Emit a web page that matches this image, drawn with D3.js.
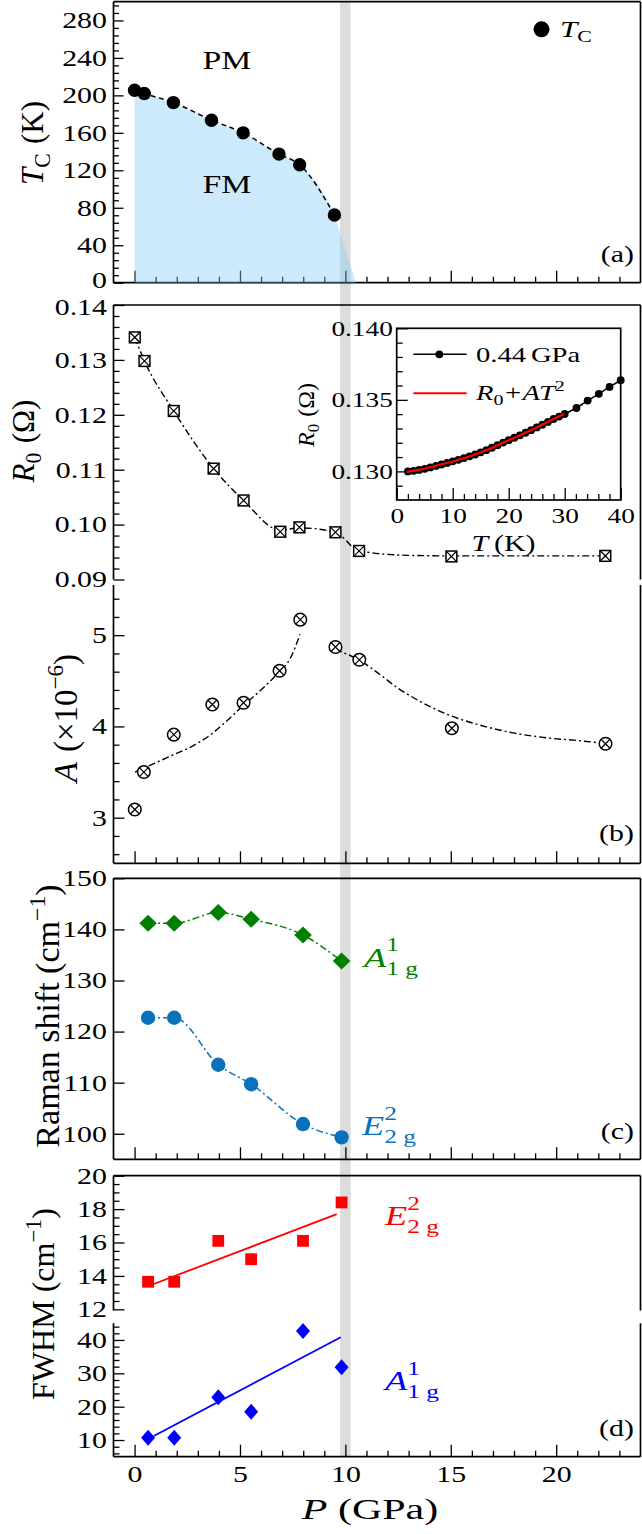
<!DOCTYPE html>
<html><head><meta charset="utf-8">
<script src="https://cdn.jsdelivr.net/npm/d3@7"></script>
<style>html,body{margin:0;padding:0;background:#fff}svg{display:block}</style>
</head><body>
<script>
// ---------------- data ----------------
const tcP = [0.0, 0.46, 1.84, 3.65, 5.15, 6.85, 7.83, 9.48];
const tcT = [205.5, 202, 192.3, 173.5, 160, 137.3, 125.9, 72.2];
const fmEdgeP = [0, 0.46, 1.84, 3.65, 5.15, 6.85, 7.83, 9.48, 10.0, 10.5];
const fmEdgeT = [200, 200.5, 191.5, 173, 159.5, 137, 125.5, 71, 36, 0];

const r0P = [0.01, 0.47, 1.86, 3.75, 5.17, 6.91, 7.82, 9.53, 10.65, 15.03, 22.33];
const r0V = [0.1341, 0.1298, 0.1207, 0.1102, 0.1044, 0.0987, 0.0995, 0.0986, 0.0952, 0.0942, 0.0943];
const r0FitP = [0.01, 0.47, 1.86, 3.75, 5.17, 6.91, 7.82, 9.53, 10.65, 13.0, 15.03, 22.33];
const r0FitV = [0.1341, 0.1298, 0.1207, 0.1102, 0.1044, 0.0990, 0.0994, 0.0986, 0.0952, 0.0944, 0.0943, 0.0943];

const aP = [0.01, 0.44, 1.86, 3.69, 5.17, 6.88, 7.86, 9.53, 10.66, 15.05, 22.34];
const aV = [3.09, 3.50, 3.91, 4.24, 4.26, 4.61, 5.17, 4.87, 4.73, 3.98, 3.81];
const aFitLowP = [0.02, 0.89, 1.84, 2.79, 3.67, 4.37, 5.16, 5.95, 6.87, 7.37, 7.85];
const aFitLowV = [3.50, 3.59, 3.69, 3.79, 3.92, 4.06, 4.23, 4.39, 4.60, 4.74, 5.01];
const aFitHighP = [9.51, 10.66, 11.64, 12.43, 13.38, 15.06, 16.39, 17.96, 19.55, 20.97, 22.36];
const aFitHighV = [4.843, 4.726, 4.569, 4.430, 4.295, 4.112, 4.014, 3.929, 3.875, 3.846, 3.813];

const insetT = [2,3,4,5,6,7,8,9,10,11,12,13,14,15,16,17,18,19,20,21,22,23,24,25,26,27,28,29,30,32.1,34.1,36.1,38,40];
const insetR = [0.13000,0.13004,0.13010,0.13018,0.13028,0.13038,0.13048,0.13059,0.13070,0.13081,0.13093,0.13105,0.13118,0.13133,0.13148,0.13165,0.13183,0.13201,0.13218,0.13235,0.13252,0.13270,0.13288,0.13307,0.13326,0.13346,0.13366,0.13383,0.13401,0.13443,0.13495,0.13542,0.13590,0.13637];
const insetFitT = [1.8, 4.2, 7.1, 10.1, 13.1, 16.1, 19.0, 22.0, 25.0, 28.0, 29.9];
const insetFitR = [0.12997, 0.13012, 0.13040, 0.13071, 0.13106, 0.13149, 0.13201, 0.13252, 0.13307, 0.13366, 0.13401];

const ramanP = [0.64, 1.88, 3.97, 5.53, 7.99, 9.82];
const ramanA1g = [141.2, 141.2, 143.3, 142.0, 138.9, 133.8];
const ramanE2g = [122.7, 122.7, 113.5, 109.7, 101.9, 99.3];

const fwhmP = [0.64, 1.88, 3.97, 5.53, 7.99, 9.82];
const fwhmE2g = [13.65, 13.65, 16.1, 15.0, 16.1, 18.4];
const fwhmA1g = [10.7, 10.7, 22.8, 18.5, 42.7, 31.8];
const fitE2gP = [0.88, 9.59], fitE2gV = [13.5, 17.7];
const fitA1gP = [0.91, 9.78], fitA1gV = [11.2, 40.8];

const bandP = [9.75, 10.25];

const xMajor = [0, 5, 10, 15, 20];
const xMinor = d3.range(1, 24).filter(v => v % 5 !== 0);
const tcMajor = [0, 40, 80, 120, 160, 200, 240, 280];
const tcMinor = d3.range(0, 300, 8).filter(v => v % 40 !== 0);
const r0Major = [0.09, 0.10, 0.11, 0.12, 0.13, 0.14];
const r0Minor = d3.range(0, 25).map(i => 0.09 + i * 0.002).filter((v, i) => i % 5 !== 0);
const aMajor = [3, 4, 5];
const aMinor = [2.6, 2.8, 3.2, 3.4, 3.6, 3.8, 4.2, 4.4, 4.6, 4.8, 5.2, 5.4];
const ramanMajor = [100, 110, 120, 130, 140, 150];
const e2Major = [12, 14, 16, 18, 20];
const e2Minor = [12.5, 13, 13.5, 14.5, 15, 15.5, 16.5, 17, 17.5, 18.5, 19, 19.5];
const a1Major = [10, 20, 30, 40];
const a1Minor = [6, 8, 12, 14, 16, 18, 22, 24, 26, 28, 32, 34, 36, 38, 42, 44];
const inXMajor = [0, 10, 20, 30, 40];
const inXMinor = [2,4,6,8,12,14,16,18,22,24,26,28,32,34,36,38];
const inYMajor = [0.130, 0.135, 0.140];
const inYMinor = [0.129, 0.131, 0.132, 0.133, 0.134, 0.136, 0.137, 0.138, 0.139];

// ---------------- layout ----------------
const W = 642, H = 1534;
const FONT = "'Liberation Serif','Times New Roman',serif";
const SX = 1.3;
const L = 113.5, R = 640.5;
const x = d3.scaleLinear([-1, 24], [L, R]);
const ya = d3.scaleLinear([0, 300], [282.7, 1.7]);
const yr = d3.scaleLinear([0.09, 0.14], [579.5, 305]);
const yA = d3.scaleLinear([2.5, 5.55], [863.3, 585]);
const yc = d3.scaleLinear([95, 150], [1159.3, 878.3]);
const ye = d3.scaleLinear([11.93, 20], [1310.5, 1175.7]);
const yf = d3.scaleLinear([5, 45], [1456.7, 1323.3]);
const xi = d3.scaleLinear([0, 40], [396.7, 620.7]);
const yi = d3.scaleLinear([0.128, 0.140], [500, 328.3]);

const svg = d3.select('body').append('svg').attr('width', W).attr('height', H)
  .attr('font-family', FONT);

function zip(a, b) { return a.map((v, i) => [v, b[i]]); }

function rich(parent, px, py, pieces, o) {
  const size = o.size;
  const g = parent.append('g');
  const inner = g.append('g').attr('fill', o.fill || '#000').attr('font-family', FONT);
  let cx = 0, hold = 0;
  for (const p of pieces) {
    cx += (p.pre || 0) * size;
    const fs = size * (p.s || 1);
    const t = inner.append('text').attr('x', cx).attr('y', (p.dy || 0) * size)
      .attr('font-size', fs).attr('font-style', p.i ? 'italic' : 'normal').text(p.t);
    const w = t.node().getComputedTextLength();
    if (p.hold) { hold = w; }
    else { cx += Math.max(w, hold); hold = 0; }
  }
  const shift = o.anchor === 'middle' ? -cx / 2 : (o.anchor === 'end' ? -cx : 0);
  inner.attr('transform', `translate(${shift},0)`);
  g.attr('transform', `translate(${px},${py}) scale(${o.sx || SX},1)` + (o.rot ? ` rotate(${o.rot})` : ''));
  return g;
}

function styleAxis(g, fs) {
  g.attr('font-family', FONT).attr('font-size', fs);
  g.select('.domain').remove();
  g.selectAll('line').attr('stroke', '#000').attr('stroke-width', 1.3);
  g.selectAll('text').attr('fill', '#000').attr('transform', `scale(${SX},1)`);
}
function leftAxis(scale, xpos, major, minor, fmt, fs, pad, big, small) {
  const g1 = svg.append('g').attr('transform', `translate(${xpos},0)`)
    .call(d3.axisLeft(scale).tickValues(major).tickSize(-(big || 11)).tickPadding(pad).tickFormat(fmt));
  styleAxis(g1, fs);
  if (minor && minor.length) {
    const g2 = svg.append('g').attr('transform', `translate(${xpos},0)`)
      .call(d3.axisLeft(scale).tickValues(minor).tickSize(-(small || 6)).tickFormat(''));
    styleAxis(g2, fs);
  }
  return g1;
}
function bottomAxis(scale, ypos, major, minor, fmt, fs, pad, big, small) {
  const g1 = svg.append('g').attr('transform', `translate(0,${ypos})`)
    .call(d3.axisBottom(scale).tickValues(major).tickSize(-(big || 12)).tickPadding(pad).tickFormat(fmt));
  styleAxis(g1, fs);
  const g2 = svg.append('g').attr('transform', `translate(0,${ypos})`)
    .call(d3.axisBottom(scale).tickValues(minor).tickSize(-(small || 6)).tickFormat(''));
  styleAxis(g2, fs);
  return g1;
}
function hline(y0, xa, xb) { svg.append('line').attr('x1', xa).attr('x2', xb).attr('y1', y0).attr('y2', y0).attr('stroke', '#000').attr('stroke-width', 1.7); }
function vline(x0, ya_, yb) { svg.append('line').attr('x1', x0).attr('x2', x0).attr('y1', ya_).attr('y2', yb).attr('stroke', '#000').attr('stroke-width', 1.7); }

// ---------------- grey band ----------------
svg.append('rect').attr('x', x(bandP[0])).attr('width', x(bandP[1]) - x(bandP[0]))
  .attr('y', ya(300)).attr('height', yf(5) - ya(300)).attr('fill', '#dcdcdc');

// ---------------- panel (a) ----------------
const none = () => '';
const axA = leftAxis(ya, L, tcMajor, tcMinor, d3.format('d'), 23, 5, 10, 5.5);
axA.selectAll('.tick').filter(d => d === 0).select('text').attr('dy', '0.22em');
bottomAxis(x, ya(0), xMajor, xMinor, none, 23, 8);
hline(ya(300), L, R); hline(ya(0), L, R); vline(L, ya(300), ya(0)); vline(R, ya(300), ya(0));
svg.append('path').datum(zip(fmEdgeP, fmEdgeT))
  .attr('d', d3.area().x(d => x(d[0])).y0(ya(0)).y1(d => ya(d[1])).curve(d3.curveMonotoneX))
  .attr('fill', 'rgb(135,206,250)').attr('fill-opacity', 0.42);
svg.append('path').datum(zip(tcP, tcT))
  .attr('d', d3.line().x(d => x(d[0])).y(d => ya(d[1])).curve(d3.curveMonotoneX))
  .attr('fill', 'none').attr('stroke', '#000').attr('stroke-width', 1.5).attr('stroke-dasharray', '5,3.5');
svg.append('g').selectAll('circle').data(zip(tcP, tcT)).join('circle')
  .attr('cx', d => x(d[0])).attr('cy', d => ya(d[1])).attr('r', 6.7).attr('fill', '#000');
svg.append('circle').attr('cx', 541.5).attr('cy', 29.3).attr('r', 8).attr('fill', '#000');
rich(svg, 560, 37, [{ t: 'T', i: 1 }, { t: 'C', s: 0.7, dy: 0.22 }], { size: 24 });
rich(svg, 227, 69, [{ t: 'PM' }], { size: 26, anchor: 'middle' });
rich(svg, 227, 192.5, [{ t: 'FM' }], { size: 26, anchor: 'middle' });
rich(svg, 634, 262, [{ t: '(a)' }], { size: 23, anchor: 'end' });
rich(svg, 43, 143, [{ t: 'T', i: 1 }, { t: 'C', s: 0.7, dy: 0.22 }, { t: '(K)', pre: 0.3 }], { size: 31, anchor: 'middle', rot: -90, sx: 1.05 });

// ---------------- panel (b) ----------------
const axR = leftAxis(yr, L, r0Major, r0Minor, d3.format('.2f'), 23, 5);
axR.selectAll('.tick').filter(d => Math.abs(d - 0.14) < 1e-9).select('text').attr('dy', '0.42em');
leftAxis(yA, L, aMajor, aMinor, d3.format('d'), 23, 5);
bottomAxis(x, yA(2.5), xMajor, xMinor, none, 23, 8);
hline(yr(0.14), L, R); vline(L, yr(0.14), yr(0.09)); vline(R, yr(0.14), yr(0.09));
vline(L, yA(5.55), yA(2.5)); vline(R, yA(5.55), yA(2.5)); hline(yA(2.5), L, R);

const dashDot = '7,3,2,3';
const lineR = d3.line().x(d => x(d[0])).y(d => yr(d[1])).curve(d3.curveMonotoneX);
svg.append('path').datum(zip(r0FitP, r0FitV)).attr('d', lineR)
  .attr('fill', 'none').attr('stroke', '#000').attr('stroke-width', 1.4).attr('stroke-dasharray', dashDot);
const lineA = d3.line().x(d => x(d[0])).y(d => yA(d[1])).curve(d3.curveMonotoneX);
svg.append('path').datum(zip(aFitLowP, aFitLowV)).attr('d', lineA)
  .attr('fill', 'none').attr('stroke', '#000').attr('stroke-width', 1.4).attr('stroke-dasharray', dashDot);
svg.append('path').datum(zip(aFitHighP, aFitHighV)).attr('d', lineA)
  .attr('fill', 'none').attr('stroke', '#000').attr('stroke-width', 1.4).attr('stroke-dasharray', dashDot);

const sq = svg.append('g').selectAll('g').data(zip(r0P, r0V)).join('g')
  .attr('transform', d => `translate(${x(d[0])},${yr(d[1])})`);
sq.append('rect').attr('x', -5.4).attr('y', -5.4).attr('width', 10.8).attr('height', 10.8)
  .attr('fill', '#fff').attr('stroke', '#000').attr('stroke-width', 1.5);
sq.append('path').attr('d', 'M-5.4,-5.4L5.4,5.4M5.4,-5.4L-5.4,5.4').attr('stroke', '#000').attr('stroke-width', 1.2);

const cx_ = svg.append('g').selectAll('g').data(zip(aP, aV)).join('g')
  .attr('transform', d => `translate(${x(d[0])},${yA(d[1])})`);
cx_.append('circle').attr('r', 6.3).attr('fill', '#fff').attr('stroke', '#000').attr('stroke-width', 1.5);
cx_.append('path').attr('d', 'M-4.5,-4.5L4.5,4.5M4.5,-4.5L-4.5,4.5').attr('stroke', '#000').attr('stroke-width', 1.2);

rich(svg, 634, 841, [{ t: '(b)' }], { size: 23, anchor: 'end' });
rich(svg, 34, 441, [{ t: 'R', i: 1 }, { t: '0', s: 0.7, dy: 0.22 }, { t: '(Ω)', pre: 0.3 }], { size: 31, anchor: 'middle', rot: -90, sx: 1.05 });
rich(svg, 77, 718, [{ t: 'A', i: 1 }, { t: '(×10', pre: 0.3 }, { t: '−6', s: 0.7, dy: -0.42 }, { t: ')' }], { size: 33, anchor: 'middle', rot: -90, sx: 1.0 });

// inset
svg.append('rect').attr('x', xi(0)).attr('y', yi(0.140)).attr('width', xi(40) - xi(0)).attr('height', yi(0.128) - yi(0.140)).attr('fill', '#fff');
leftAxis(yi, xi(0), inYMajor, inYMinor, d3.format('.3f'), 21, 3);
bottomAxis(xi, yi(0.128), inXMajor, inXMinor, d3.format('d'), 21, 8);
svg.append('rect').attr('x', xi(0)).attr('y', yi(0.140)).attr('width', xi(40) - xi(0)).attr('height', yi(0.128) - yi(0.140))
  .attr('fill', 'none').attr('stroke', '#000').attr('stroke-width', 1.7);
svg.append('path').datum(zip(insetT, insetR))
  .attr('d', d3.line().x(d => xi(d[0])).y(d => yi(d[1])))
  .attr('fill', 'none').attr('stroke', '#000').attr('stroke-width', 1.5);
svg.append('g').selectAll('circle').data(zip(insetT, insetR)).join('circle')
  .attr('cx', d => xi(d[0])).attr('cy', d => yi(d[1])).attr('r', 3.9).attr('fill', '#000');
svg.append('path').datum(zip(insetFitT, insetFitR))
  .attr('d', d3.line().x(d => xi(d[0])).y(d => yi(d[1])).curve(d3.curveMonotoneX))
  .attr('fill', 'none').attr('stroke', '#ff0000').attr('stroke-width', 2.2);
svg.append('line').attr('x1', 413.3).attr('x2', 466.7).attr('y1', 354.3).attr('y2', 354.3).attr('stroke', '#000').attr('stroke-width', 1.5);
svg.append('circle').attr('cx', 439.3).attr('cy', 354.3).attr('r', 3.9).attr('fill', '#000');
svg.append('line').attr('x1', 413.3).attr('x2', 466.7).attr('y1', 393.3).attr('y2', 393.3).attr('stroke', '#ff0000').attr('stroke-width', 2);
rich(svg, 476, 362, [{ t: '0.44' }, { t: 'GPa', pre: 0.17 }], { size: 22 });
rich(svg, 476, 400, [{ t: 'R', i: 1 }, { t: '0', s: 0.7, dy: 0.22 }, { t: '+', pre: 0.05 }, { t: 'AT', i: 1, pre: 0.05 }, { t: '2', s: 0.7, dy: -0.42 }], { size: 22 });
rich(svg, 503.5, 551, [{ t: 'T', i: 1 }, { t: '(K)', pre: 0.2 }], { size: 23, anchor: 'middle' });
rich(svg, 314, 415, [{ t: 'R', i: 1 }, { t: '0', s: 0.7, dy: 0.22 }, { t: '(Ω)', pre: 0.3 }], { size: 24, anchor: 'middle', rot: -90, sx: 1.0 });

// ---------------- panel (c) ----------------
leftAxis(yc, L, ramanMajor, [], d3.format('d'), 23, 5);
bottomAxis(x, yc(95), xMajor, xMinor, none, 23, 8);
hline(yc(150), L, R); hline(yc(95), L, R); vline(L, yc(150), yc(95)); vline(R, yc(150), yc(95));
const green = '#008000', rblue = '#0a72ba';
const lineC = d3.line().x(d => x(d[0])).y(d => yc(d[1])).curve(d3.curveMonotoneX);
svg.append('path').datum(zip(ramanP, ramanA1g)).attr('d', lineC)
  .attr('fill', 'none').attr('stroke', green).attr('stroke-width', 1.5).attr('stroke-dasharray', dashDot);
svg.append('path').datum(zip(ramanP, ramanE2g)).attr('d', lineC)
  .attr('fill', 'none').attr('stroke', rblue).attr('stroke-width', 1.5).attr('stroke-dasharray', dashDot);
svg.append('g').selectAll('path').data(zip(ramanP, ramanA1g)).join('path')
  .attr('transform', d => `translate(${x(d[0])},${yc(d[1])})`)
  .attr('d', 'M0,-8.5L8.8,0L0,8.5L-8.8,0Z').attr('fill', green);
svg.append('g').selectAll('circle').data(zip(ramanP, ramanE2g)).join('circle')
  .attr('cx', d => x(d[0])).attr('cy', d => yc(d[1])).attr('r', 7.2).attr('fill', rblue);
rich(svg, 364, 966.7, [{ t: 'A', i: 1 }, { t: '1', s: 0.7, dy: -0.55, hold: 1 }, { t: '1 g', s: 0.7, dy: 0.3 }], { size: 28, fill: green });
rich(svg, 362, 1135, [{ t: 'E', i: 1 }, { t: '2', s: 0.7, dy: -0.55, hold: 1 }, { t: '2 g', s: 0.7, dy: 0.3 }], { size: 28, fill: rblue });
rich(svg, 634, 1139, [{ t: '(c)' }], { size: 23, anchor: 'end' });
rich(svg, 59, 1016, [{ t: 'Raman shift (cm' }, { t: '−1', s: 0.7, dy: -0.42 }, { t: ')' }], { size: 34, anchor: 'middle', rot: -90, sx: 1.0 });

// ---------------- panel (d) ----------------
leftAxis(ye, L, e2Major, e2Minor, d3.format('d'), 23, 5);
leftAxis(yf, L, a1Major, a1Minor, d3.format('d'), 23, 5);
bottomAxis(x, yf(5), xMajor, xMinor, d3.format('d'), 23, 9);
hline(ye(20), L, R); vline(L, ye(20), ye(11.93)); vline(R, ye(20), ye(11.93));
vline(L, yf(45), yf(5)); vline(R, yf(45), yf(5)); hline(yf(5), L, R);
svg.append('path').datum(zip(fitE2gP, fitE2gV))
  .attr('d', d3.line().x(d => x(d[0])).y(d => ye(d[1])))
  .attr('stroke', '#ff0000').attr('stroke-width', 1.8).attr('fill', 'none');
svg.append('path').datum(zip(fitA1gP, fitA1gV))
  .attr('d', d3.line().x(d => x(d[0])).y(d => yf(d[1])))
  .attr('stroke', '#0000ff').attr('stroke-width', 1.8).attr('fill', 'none');
svg.append('g').selectAll('rect').data(zip(fwhmP, fwhmE2g)).join('rect')
  .attr('x', d => x(d[0]) - 5.9).attr('y', d => ye(d[1]) - 5.9).attr('width', 11.8).attr('height', 11.8).attr('fill', '#ff0000');
svg.append('g').selectAll('path').data(zip(fwhmP, fwhmA1g)).join('path')
  .attr('transform', d => `translate(${x(d[0])},${yf(d[1])})`)
  .attr('d', 'M0,-8L7,0L0,8L-7,0Z').attr('fill', '#0000ff');
rich(svg, 385, 1225, [{ t: 'E', i: 1 }, { t: '2', s: 0.7, dy: -0.55, hold: 1 }, { t: '2 g', s: 0.7, dy: 0.3 }], { size: 28, fill: '#ff0000' });
rich(svg, 385, 1390, [{ t: 'A', i: 1 }, { t: '1', s: 0.7, dy: -0.55, hold: 1 }, { t: '1 g', s: 0.7, dy: 0.3 }], { size: 28, fill: '#0000ff' });
rich(svg, 634, 1436, [{ t: '(d)' }], { size: 23, anchor: 'end' });
rich(svg, 54, 1304, [{ t: 'FWHM (cm' }, { t: '−1', s: 0.7, dy: -0.42 }, { t: ')' }], { size: 32, anchor: 'middle', rot: -90, sx: 1.0 });
rich(svg, 370, 1519, [{ t: 'P', i: 1 }, { t: '(GPa)', pre: 0.25 }], { size: 30, anchor: 'middle', sx: 1.4 });
</script>
</body></html>
